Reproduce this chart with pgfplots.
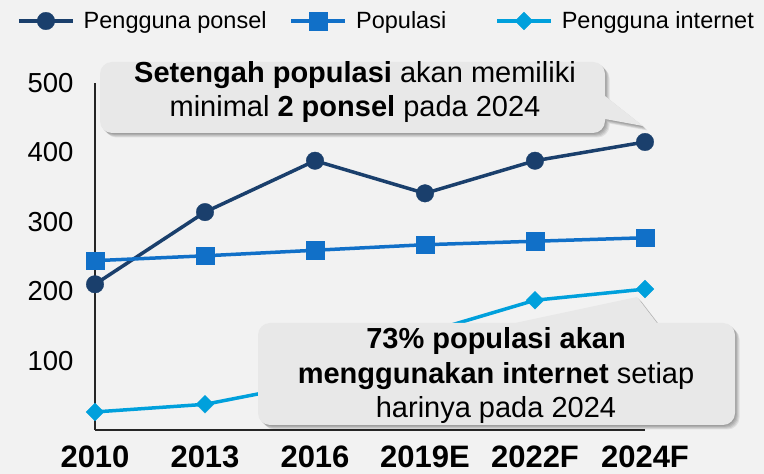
\documentclass[border=0pt]{standalone}
\usepackage{fontspec}
\setmainfont{Liberation Sans}
\usepackage{pgfplots}
\pgfplotsset{compat=1.18}
\definecolor{bg}{HTML}{F2F2F2}
\definecolor{ponsel}{HTML}{1A3F6C}
\definecolor{popul}{HTML}{1170C8}
\definecolor{inet}{HTML}{00A0DC}
\definecolor{callout}{HTML}{E8E8E8}
\begin{document}
\begin{tikzpicture}[x=1pt,y=1pt]
\fill[bg] (0,0) rectangle (764,474);
\begin{axis}[
  at={(95pt,44pt)}, anchor=south west,
  scale only axis, width=550pt, height=347pt,
  xmin=0, xmax=5, ymin=0, ymax=500,
  axis x line*=bottom, axis y line*=left,
  axis line style={line width=1.5pt, color=black!85},
  xtick={0,...,5},
  xticklabels={2010,2013,2016,2019E,2022F,2024F},
  ytick={100,200,300,400,500},
  major tick length=0pt,
  tick style={draw=none},
  xticklabel style={font=\fontsize{31}{31}\selectfont\bfseries, anchor=center, yshift=-27pt},
  yticklabel style={font=\fontsize{27.5}{27.5}\selectfont, anchor=east, xshift=-18pt},
  /pgf/number format/assume math mode=true,
  clip=false,
  legend columns=3,
  legend style={at={(axis description cs:-0.1418,1.1787)}, anchor=west, draw=none, fill=none,
    font=\fontsize{23.5}{28}\selectfont, inner sep=0pt, nodes={inner sep=0pt},
    /tikz/every odd column/.append style={column sep=9pt},
    /tikz/column 2/.append style={column sep=23pt},
    /tikz/column 4/.append style={column sep=49pt}},
  legend image code/.code={\draw[mark repeat=2,mark phase=2,#1] plot coordinates {(0pt,0pt) (27pt,0pt) (54pt,0pt)};},
]
\addplot[ponsel, line width=3.5pt, mark=*, mark size=8.8pt, mark options={line width=0.3pt}]
  coordinates {(0,210)(1,314)(2,388)(3,341)(4,388)(5,415)};
\addlegendentry{Pengguna ponsel}
\addplot[popul, line width=3.5pt, mark=square*, mark size=8.8pt, mark options={line width=0.3pt}]
  coordinates {(0,244)(1,251)(2,259)(3,267)(4,272)(5,277)};
\addlegendentry{Populasi}
\addplot[inet, line width=3.5pt, mark=square*, mark size=6.3pt, mark options={rotate=45, line width=0.3pt}]
  coordinates {(0,26)(1,37)(2,68)(3,140)(4,187)(5,203)};
\addlegendentry{Pengguna internet}
\end{axis}
\def\calloutA{(112,341) -- (593,341) arc[start angle=-90, end angle=0, radius=12] -- (605,355) -- (643,348) -- (605,378) -- (605,400) arc[start angle=0, end angle=90, radius=12] -- (112,412) arc[start angle=90, end angle=180, radius=12] -- (100,353) arc[start angle=180, end angle=270, radius=12] -- cycle}
\def\calloutB{(270,49) -- (723,49) arc[start angle=-90, end angle=0, radius=12] -- (735,139) arc[start angle=0, end angle=90, radius=12] -- (657,151) -- (637,177) -- (515,151) -- (270,151) arc[start angle=90, end angle=180, radius=12] -- (258,61) arc[start angle=180, end angle=270, radius=12] -- cycle}
\foreach \k in {1,2,3,4,5}{
  \fill[black, opacity=0.08, shift={(\k*0.9,-\k*0.9)}] \calloutA;
  \fill[black, opacity=0.08, shift={(\k*0.9,-\k*0.9)}] \calloutB;
}
\fill[callout] \calloutA;
\fill[callout] \calloutB;
\node[align=center, font=\fontsize{29}{34}\selectfont, text=black, inner sep=0pt] at (355,382)
  {\textbf{Setengah populasi} akan memiliki\\minimal \textbf{2 ponsel} pada 2024};
\node[align=center, font=\fontsize{29}{34.5}\selectfont, text=black, inner sep=0pt] at (496,98)
  {\textbf{73\% populasi akan}\\\textbf{menggunakan internet} setiap\\harinya pada 2024};
\pgfresetboundingbox
\useasboundingbox (0,0) rectangle (764,474);
\end{tikzpicture}
\end{document}
